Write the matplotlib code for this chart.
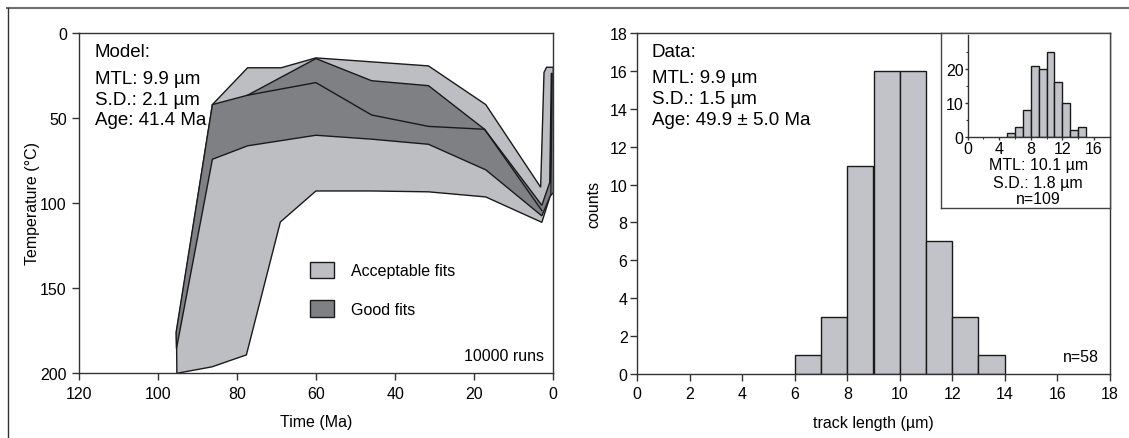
import matplotlib
matplotlib.use("Agg")
import matplotlib.pyplot as plt
from matplotlib.patches import Polygon, Patch
from matplotlib.lines import Line2D
import numpy as np

plt.rcParams['font.family'] = ['Liberation Sans', 'DejaVu Sans']
plt.rcParams['font.size'] = 11.5

# ---------------- data: thermal history model ----------------
acc_upper_time = [95.4, 86.3, 77.4, 68.9, 60.1, 31.6, 17.1, 3.2, 2.35, 1.7, 0.0]
acc_upper_temp = [176, 42.3, 20.7, 20.7, 14.9, 19.6, 42.3, 90.8, 23.4, 20.4, 20.4]
acc_lower_time = [95.3, 86.4, 77.7, 69.1, 60.1, 46.0, 31.6, 17.1, 2.9, 0.8, 0.0]
acc_lower_temp = [200, 196.2, 189.2, 111.2, 93.0, 93.0, 93.5, 96.5, 111.4, 96.0, 94.0]

good_upper_time = [95.5, 86.3, 77.4, 60.1, 46.0, 31.6, 17.4, 2.9, 0.9, 0.5]
good_upper_temp = [176, 42.3, 36.8, 15.3, 28.3, 31.2, 56.8, 101.4, 88, 24]
good_lower_time = [95.4, 86.3, 77.4, 60.1, 46.0, 31.6, 17.1, 2.9, 0.6, 0.3]
good_lower_temp = [185.5, 74.4, 66.5, 60.3, 62.6, 65.6, 80.6, 107.6, 95, 24]

inner_time = [77.4, 60.1, 46.0, 31.6, 17.4, 2.9]
inner_temp = [36.8, 29.4, 48.4, 55.1, 56.8, 104.5]

# ---------------- data: track length histograms ----------------
bin_left = [6, 7, 8, 9, 10, 11, 12, 13]
counts = [1, 3, 11, 16, 16, 7, 3, 1]

inset_bin_left = [5, 6, 7, 8, 9, 10, 11, 12, 13, 14]
inset_counts = [1, 3, 8, 21, 20, 25, 16, 10, 2, 3]

model_lines = ["Model:", "MTL: 9.9 µm", "S.D.: 2.1 µm", "Age: 41.4 Ma"]
data_lines = ["Data:", "MTL: 9.9 µm", "S.D.: 1.5 µm", "Age: 49.9 ± 5.0 Ma"]
inset_lines = ["MTL: 10.1 µm", "S.D.: 1.8 µm", "n=109"]

LIGHT = '#bdbec2'
DARK = '#7f8084'
BAR = '#c1c3c8'
SPINE = '#333333'
FS = 11.5
FS_ANN = 13.5

W, H = 1129, 439
fig = plt.figure(figsize=(W / 100, H / 100), dpi=100)

def fx(px):
    return px / W

def fy(py):
    return (H - py) / H

# frame lines
fig.add_artist(Line2D([fx(7), 1.0], [fy(8.5), fy(8.5)], color='#6e6e6e', lw=1.5))
fig.add_artist(Line2D([fx(7.5), fx(7.5)], [0, fy(8.5)], color='#333333', lw=1.0))

# ---------------- left panel ----------------
ax1 = fig.add_axes([fx(79.3), fy(374.3), fx(553.3 - 79.3), (374.3 - 33.5) / H])
ax1.set_xlim(120, 0)
ax1.set_ylim(200, 0)

acc_poly = list(zip(acc_upper_time, acc_upper_temp)) + list(zip(acc_lower_time, acc_lower_temp))[::-1]
ax1.add_patch(Polygon(acc_poly, closed=True, facecolor=LIGHT, edgecolor='#1a1a1a', lw=1.0, zorder=2))
good_poly = list(zip(good_upper_time, good_upper_temp)) + list(zip(good_lower_time, good_lower_temp))[::-1]
ax1.add_patch(Polygon(good_poly, closed=True, facecolor=DARK, edgecolor='#1a1a1a', lw=1.0, zorder=3))
ax1.plot(inner_time, inner_temp, color='#1a1a1a', lw=1.0, zorder=4)

ax1.set_xticks([120, 100, 80, 60, 40, 20, 0])
ax1.set_yticks([0, 50, 100, 150, 200])
ax1.tick_params(direction='out', length=5, width=1, pad=4, color=SPINE, labelsize=FS)
for s in ax1.spines.values():
    s.set_color(SPINE)
    s.set_linewidth(1)
ax1.set_xlabel("Time (Ma)", fontsize=FS)
ax1.set_ylabel("Temperature (°C)", fontsize=FS)
ax1.xaxis.set_label_coords(0.5, -0.118)
ax1.yaxis.set_label_coords(-0.082, 0.5)

ys = [11.2, 26.8, 39.1, 51.3]
for t, yv in zip(model_lines, ys):
    ax1.text(0.0325, yv, t, transform=ax1.get_yaxis_transform(), ha='left', va='center', fontsize=FS_ANN)
ax1.text(2.4, 189.4, "10000 runs", ha='right', va='center', fontsize=FS)

fs_px = FS * 100 / 72.0
handles = [Patch(facecolor=LIGHT, edgecolor='#1a1a1a', lw=1.0),
           Patch(facecolor=DARK, edgecolor='#1a1a1a', lw=1.0)]
ax1.legend(handles, ["Acceptable fits", "Good fits"], loc='upper left',
           bbox_to_anchor=((310.4 - 79.3) / 474.0, (374.3 - 262.5) / 340.8),
           frameon=False, borderpad=0, borderaxespad=0, handlelength=24 / fs_px,
           handleheight=20 / fs_px, handletextpad=17 / fs_px, labelspacing=21.7 / fs_px,
           fontsize=FS)

# ---------------- right panel ----------------
ax2 = fig.add_axes([fx(637.3), fy(375), fx(1109.7 - 637.3), (375 - 34) / H])
ax2.bar(bin_left, counts, width=1, align='edge', color=BAR, edgecolor='#1a1a1a', lw=1.0)
ax2.set_xlim(0, 18)
ax2.set_ylim(0, 18)
ax2.set_xticks(np.arange(0, 19, 2))
ax2.set_yticks(np.arange(0, 19, 2))
ax2.tick_params(axis='x', direction='out', length=5, width=1, pad=4, color=SPINE, labelsize=FS)
ax2.tick_params(axis='y', direction='out', length=5, width=1, pad=2, color=SPINE, labelsize=FS)
for s in ax2.spines.values():
    s.set_color(SPINE)
    s.set_linewidth(1)
ax2.set_xlabel("track length (µm)", fontsize=FS)
ax2.set_ylabel("counts", fontsize=FS)
ax2.xaxis.set_label_coords(0.5, -0.12)
ax2.yaxis.set_label_coords(-0.075, 0.5)

ys2 = [17.04, 15.63, 14.52, 13.43]
for t, yv in zip(data_lines, ys2):
    ax2.text(0.55, yv, t, ha='left', va='center', fontsize=FS_ANN)
ax2.text(17.6, 0.91, "n=58", ha='right', va='center', fontsize=FS)

# inset box
axb = fig.add_axes([fx(941), fy(209.3), fx(1109.7 - 941), (209.3 - 34) / H], zorder=2)
axb.set_facecolor('white')
axb.set_xticks([])
axb.set_yticks([])
for s in axb.spines.values():
    s.set_color('#444444')
    s.set_linewidth(1)

axi = fig.add_axes([fx(967.7), fy(137.7), fx(1109.7 - 967.7), (137.7 - 36) / H], zorder=3)
axi.patch.set_alpha(0)
axi.bar(inset_bin_left, inset_counts, width=1, align='edge', color=BAR, edgecolor='#1a1a1a', lw=1.0)
axi.set_xlim(0, 18)
axi.set_ylim(0, 30)
axi.set_xticks([0, 4, 8, 12, 16])
axi.set_xticks([2, 6, 10, 14], minor=True)
axi.set_yticks([0, 10, 20])
axi.set_yticks([5, 15, 25], minor=True)
axi.tick_params(which='major', direction='out', length=2.5, width=1, pad=0.5, labelsize=FS, color=SPINE)
axi.tick_params(which='minor', direction='out', length=1.5, width=0.8, color=SPINE)
axi.spines['top'].set_visible(False)
axi.spines['right'].set_visible(False)
for s in ['left', 'bottom']:
    axi.spines[s].set_color(SPINE)
    axi.spines[s].set_linewidth(1)

for t, py in zip(inset_lines, [166, 183.3, 200]):
    fig.text(fx(1038.3), fy(py), t, ha='center', va='center', fontsize=FS, zorder=5)

fig.savefig("out.png", dpi=100)
